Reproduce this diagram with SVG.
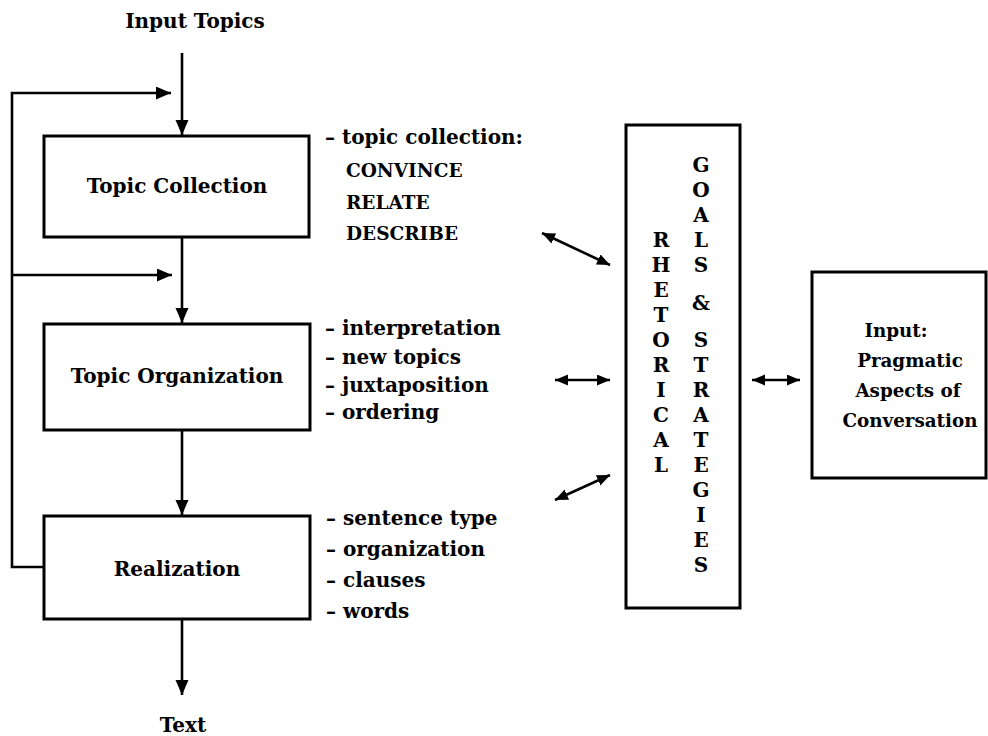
<svg xmlns="http://www.w3.org/2000/svg" width="988" height="736" viewBox="0 0 988 736">
<style>
  text { font-family: "DejaVu Serif", "Liberation Serif", serif; font-weight: bold; fill: #000; }
  .t { font-size: 20px; }
  .lbl { font-size: 20px; }
  .caps { font-size: 18.5px; }
  .col { font-size: 20px; text-anchor: middle; }
  .prag { font-size: 18.3px; text-anchor: middle; }
  .mid { text-anchor: middle; }
  .box { fill: #fff; stroke: #000; stroke-width: 3; }
  .ln { fill: none; stroke: #000; stroke-width: 2.6; }
</style>
<defs>
  <marker id="ah" markerUnits="userSpaceOnUse" markerWidth="16" markerHeight="14" refX="15" refY="6.5" orient="auto-start-reverse">
    <path d="M0,0 L15,6.5 L0,13 Z" fill="#000"/>
  </marker>
  <marker id="ah2" markerUnits="userSpaceOnUse" markerWidth="14" markerHeight="12" refX="13" refY="5.5" orient="auto-start-reverse">
    <path d="M0,0 L13,5.5 L0,11 Z" fill="#000"/>
  </marker>
</defs>

<text class="t mid" x="195" y="28">Input Topics</text>
<text class="t mid" x="183" y="732">Text</text>

<g id="topic-collection">
  <rect class="box" x="44" y="136" width="265" height="101"/>
  <text class="t mid" x="177" y="193">Topic Collection</text>
  <text class="lbl" x="325" y="144">– topic collection:</text>
  <text class="caps" x="346" y="177">CONVINCE</text>
  <text class="caps" x="346" y="209">RELATE</text>
  <text class="caps" x="346" y="240">DESCRIBE</text>
</g>

<g id="topic-organization">
  <rect class="box" x="44" y="324" width="266" height="106"/>
  <text class="t mid" x="177" y="383">Topic Organization</text>
  <text class="lbl" x="325" y="335">– interpretation</text>
  <text class="lbl" x="325" y="364">– new topics</text>
  <text class="lbl" x="325" y="392">– juxtaposition</text>
  <text class="lbl" x="325" y="419">– ordering</text>
</g>

<g id="realization">
  <rect class="box" x="44" y="516" width="266" height="103"/>
  <text class="t mid" x="177" y="576">Realization</text>
  <text class="lbl" x="326" y="525">– sentence type</text>
  <text class="lbl" x="326" y="556">– organization</text>
  <text class="lbl" x="326" y="587">– clauses</text>
  <text class="lbl" x="326" y="618">– words</text>
</g>

<g id="rhetorical">
  <rect class="box" x="626" y="125" width="114" height="483"/>
  <text class="col" x="661" y="247">R</text>
  <text class="col" x="661" y="272">H</text>
  <text class="col" x="661" y="297">E</text>
  <text class="col" x="661" y="322">T</text>
  <text class="col" x="661" y="347">O</text>
  <text class="col" x="661" y="372">R</text>
  <text class="col" x="661" y="397">I</text>
  <text class="col" x="661" y="422">C</text>
  <text class="col" x="661" y="447">A</text>
  <text class="col" x="661" y="472">L</text>
  <text class="col" x="701" y="172">G</text>
  <text class="col" x="701" y="197">O</text>
  <text class="col" x="701" y="222">A</text>
  <text class="col" x="701" y="247">L</text>
  <text class="col" x="701" y="272">S</text>
  <text class="col" x="701" y="310">&amp;</text>
  <text class="col" x="701" y="347">S</text>
  <text class="col" x="701" y="372">T</text>
  <text class="col" x="701" y="397">R</text>
  <text class="col" x="701" y="422">A</text>
  <text class="col" x="701" y="447">T</text>
  <text class="col" x="701" y="472">E</text>
  <text class="col" x="701" y="497">G</text>
  <text class="col" x="701" y="522">I</text>
  <text class="col" x="701" y="547">E</text>
  <text class="col" x="701" y="572">S</text>
</g>

<g id="pragmatic">
  <rect class="box" x="812" y="272" width="174" height="206"/>
  <text class="prag" x="896" y="337">Input:</text>
  <text class="prag" x="910" y="367">Pragmatic</text>
  <text class="prag" x="908" y="397">Aspects of</text>
  <text class="prag" x="910" y="427">Conversation</text>
</g>

<g id="connectors">
  <line class="ln" x1="182" y1="53" x2="182" y2="135" marker-end="url(#ah)"/>
  <line class="ln" x1="182" y1="237" x2="182" y2="323" marker-end="url(#ah)"/>
  <line class="ln" x1="182" y1="430" x2="182" y2="515" marker-end="url(#ah)"/>
  <line class="ln" x1="182" y1="619" x2="182" y2="695" marker-end="url(#ah)"/>
  <path class="ln" d="M43,567 H12 V93 H171" marker-end="url(#ah)"/>
  <line class="ln" x1="12" y1="275" x2="172" y2="275" marker-end="url(#ah)"/>
  <line class="ln" x1="542" y1="233" x2="610" y2="265" marker-start="url(#ah2)" marker-end="url(#ah2)"/>
  <line class="ln" x1="555" y1="380" x2="610" y2="380" marker-start="url(#ah2)" marker-end="url(#ah2)"/>
  <line class="ln" x1="555" y1="500" x2="610" y2="475" marker-start="url(#ah2)" marker-end="url(#ah2)"/>
  <line class="ln" x1="752" y1="380" x2="800" y2="380" marker-start="url(#ah2)" marker-end="url(#ah2)"/>
</g>
</svg>
